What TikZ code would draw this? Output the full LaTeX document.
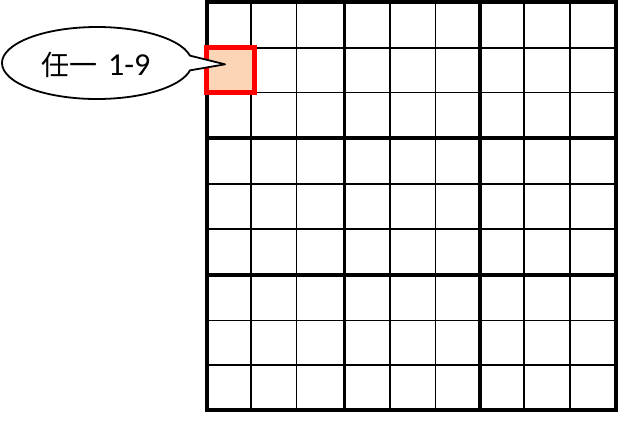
\documentclass[tikz,border=0pt]{standalone}
\usepackage{fontspec}
\setmainfont{Carlito}
\newfontfamily\cjk{Noto Sans CJK TC}
\definecolor{peach}{RGB}{251,213,181}
\definecolor{pickred}{RGB}{255,0,0}
\begin{document}
\begin{tikzpicture}[x=1pt,y=-1pt,
  thinline/.style={line width=1.3pt,black},
  thickline/.style={line width=3.6pt,black},
  outerline/.style={line width=4pt,black},
  pickcell/.style={draw=pickred,fill=peach,line width=5pt,minimum width=47.5pt,minimum height=45pt,inner sep=0pt},
  callout/.style={draw=black,fill=white,line width=1.8pt,line join=round},
  calltext/.style={inner sep=0pt,anchor=base west}]
\useasboundingbox (0,0) rectangle (618,421);
% thin grid lines
\foreach \x in {251,296.5,390,435.5,524,570}
  \draw[thinline] (\x,2) -- (\x,410);
\foreach \y in {48,92.5,184,229,320.5,365}
  \draw[thinline] (206.5,\y) -- (615.5,\y);
% thick block lines
\foreach \x in {344.5,480}
  \draw[thickline] (\x,2) -- (\x,410);
\foreach \y in {138,275}
  \draw[thickline] (206.5,\y) -- (615.5,\y);
\draw[outerline] (206.5,2) rectangle (615.5,410);
% highlighted cell
\node[pickcell] (pick) at (230.25,70) {};
% callout
\coordinate (tip) at (225,64.3);
\draw[callout] (tip) -- (189.99,55.64) arc[start angle=11.8,end angle=348.2,x radius=95pt,y radius=36pt] -- cycle;
\node[calltext] (label) at (41,75) {{\cjk\fontsize{28}{32}\selectfont 任一}\hspace{11pt}{\fontsize{32}{36}\selectfont 1-9}};
\end{tikzpicture}
\end{document}
